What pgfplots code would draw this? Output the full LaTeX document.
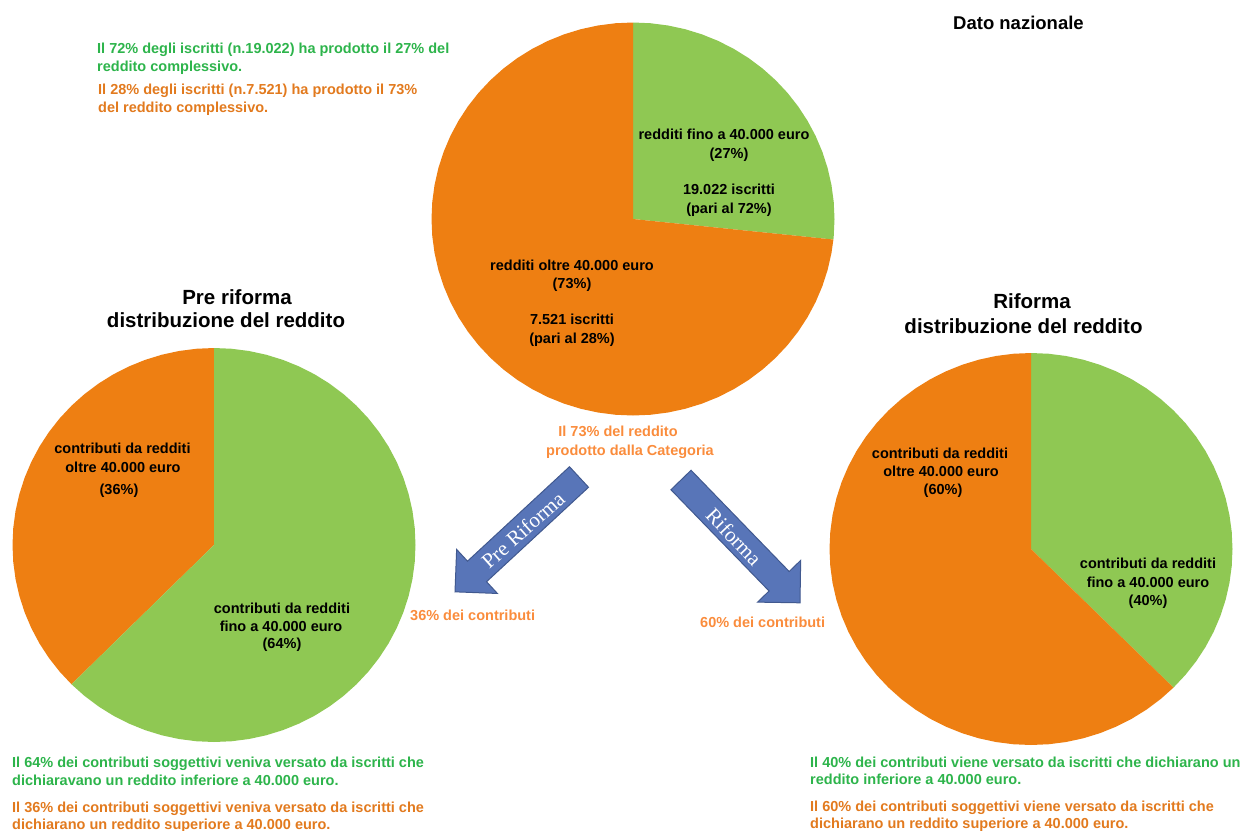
\documentclass[border=0pt]{standalone}
\usepackage{pgfplots}
\pgfplotsset{compat=1.18}
\usepackage{fontspec}
\setmainfont{Liberation Sans}
\newfontfamily\seriffont{Liberation Serif}
\definecolor{pieGreen}{HTML}{8FC853}
\definecolor{pieOrange}{HTML}{EE7F12}
\definecolor{txtGreen}{HTML}{2DB44B}
\definecolor{txtOrange}{HTML}{E27A1E}
\definecolor{lightOrange}{HTML}{FA8C3C}
\definecolor{arrowBlue}{HTML}{5875B8}
\definecolor{arrowEdge}{HTML}{41598F}
\tikzset{
  txt/.style={font=\bfseries\fontsize{14.5}{17}\selectfont, inner sep=0pt, anchor=base west},
  lab/.style={font=\bfseries\fontsize{14.5}{17}\selectfont, inner sep=0pt, anchor=base, text=black},
  ttl/.style={font=\bfseries\fontsize{20.5}{24}\selectfont, inner sep=0pt, anchor=base, text=black},
}
\pgfplotsset{pie/.style={scale only axis, hide axis, xmin=-1, xmax=1, ymin=-1, ymax=1, clip=false, anchor=center}}
\begin{document}
\begin{tikzpicture}
\path[use as bounding box] (0pt,0pt) rectangle (1242pt,-830pt);

% ---- Dato nazionale pie (27% / 73%) ----
\begin{axis}[pie, at={(633pt,-219pt)}, width=403pt, height=393pt]
\addplot[fill=pieGreen, draw=none, data cs=polar] coordinates {
(0,0) (90,1) (85,1) (80,1) (75,1) (70,1) (65,1) (60,1) (55,1) (50,1) (45,1) (40,1)
(35,1) (30,1) (25,1) (20,1) (15,1) (10,1) (5,1) (0,1) (-5,1) (-6,1)};
\addplot[fill=pieOrange, draw=none, data cs=polar] coordinates {
(0,0) (-6,1) (-10,1) (-15,1) (-20,1) (-25,1) (-30,1) (-35,1) (-40,1) (-45,1) (-50,1)
(-55,1) (-60,1) (-65,1) (-70,1) (-75,1) (-80,1) (-85,1) (-90,1) (-95,1) (-100,1)
(-105,1) (-110,1) (-115,1) (-120,1) (-125,1) (-130,1) (-135,1) (-140,1) (-145,1)
(-150,1) (-155,1) (-160,1) (-165,1) (-170,1) (-175,1) (-180,1) (-185,1) (-190,1)
(-195,1) (-200,1) (-205,1) (-210,1) (-215,1) (-220,1) (-225,1) (-230,1) (-235,1)
(-240,1) (-245,1) (-250,1) (-255,1) (-260,1) (-265,1) (-270,1)};
\end{axis}

% ---- Pre riforma pie ----
\begin{axis}[pie, at={(214pt,-545pt)}, width=403pt, height=394pt]
\addplot[fill=pieOrange, draw=none, data cs=polar] coordinates {
(0,0) (90,1) (95,1) (100,1) (105,1) (110,1) (115,1) (120,1) (125,1) (130,1) (135,1)
(140,1) (145,1) (150,1) (155,1) (160,1) (165,1) (170,1) (175,1) (180,1) (185,1)
(190,1) (195,1) (200,1) (205,1) (210,1) (215,1) (220,1) (225,1)};
\addplot[fill=pieGreen, draw=none, data cs=polar] coordinates {
(0,0) (225,1) (230,1) (235,1) (240,1) (245,1) (250,1) (255,1) (260,1) (265,1) (270,1)
(275,1) (280,1) (285,1) (290,1) (295,1) (300,1) (305,1) (310,1) (315,1) (320,1)
(325,1) (330,1) (335,1) (340,1) (345,1) (350,1) (355,1) (360,1) (365,1) (370,1)
(375,1) (380,1) (385,1) (390,1) (395,1) (400,1) (405,1) (410,1) (415,1) (420,1)
(425,1) (430,1) (435,1) (440,1) (445,1) (450,1)};
\end{axis}

% ---- Riforma pie ----
\begin{axis}[pie, at={(1031pt,-549pt)}, width=403pt, height=392pt]
\addplot[fill=pieGreen, draw=none, data cs=polar] coordinates {
(0,0) (90,1) (85,1) (80,1) (75,1) (70,1) (65,1) (60,1) (55,1) (50,1) (45,1) (40,1)
(35,1) (30,1) (25,1) (20,1) (15,1) (10,1) (5,1) (0,1) (-5,1) (-10,1) (-15,1) (-20,1)
(-25,1) (-30,1) (-35,1) (-40,1) (-45,1)};
\addplot[fill=pieOrange, draw=none, data cs=polar] coordinates {
(0,0) (-45,1) (-50,1) (-55,1) (-60,1) (-65,1) (-70,1) (-75,1) (-80,1) (-85,1) (-90,1)
(-95,1) (-100,1) (-105,1) (-110,1) (-115,1) (-120,1) (-125,1) (-130,1) (-135,1)
(-140,1) (-145,1) (-150,1) (-155,1) (-160,1) (-165,1) (-170,1) (-175,1) (-180,1)
(-185,1) (-190,1) (-195,1) (-200,1) (-205,1) (-210,1) (-215,1) (-220,1) (-225,1)
(-230,1) (-235,1) (-240,1) (-245,1) (-250,1) (-255,1) (-260,1) (-265,1) (-270,1)};
\end{axis}

\begin{scope}[x=1pt, y=-1pt]
% arrows
\begin{scope}[shift={(579,477)}, rotate=222.8]
\filldraw[fill=arrowBlue, draw=arrowEdge, line width=1pt]
 (0,-14) -- (139,-14) -- (139,-30) -- (169,0) -- (139,30) -- (139,14) -- (0,14) -- cycle;
\end{scope}
\begin{scope}[shift={(681,480)}, rotate=-45.9]
\filldraw[fill=arrowBlue, draw=arrowEdge, line width=1pt]
 (0,-14) -- (141,-14) -- (141,-30) -- (171,0) -- (141,30) -- (141,14) -- (0,14) -- cycle;
\end{scope}
\node[rotate=41.7, text=white, inner sep=0pt, font=\seriffont\fontsize{21}{21}\selectfont] at (523,530) {Pre Riforma};
\node[rotate=-46.5, text=white, inner sep=0pt, font=\seriffont\fontsize{21}{21}\selectfont] at (734,537) {Riforma};

% top-left notes
\node[txt, text=txtGreen] at (97,53) {Il 72\% degli iscritti (n.19.022) ha prodotto il 27\% del};
\node[txt, text=txtGreen] at (97,71) {reddito complessivo.};
\node[txt, text=txtOrange] at (98,94) {Il 28\% degli iscritti (n.7.521) ha prodotto il 73\%};
\node[txt, text=txtOrange] at (98,112) {del reddito complessivo.};

\node[font=\bfseries\fontsize{18.5}{22}\selectfont, inner sep=0pt, anchor=base west] at (953,29) {Dato nazionale};

% top pie labels
\node[lab] at (724,139) {redditi fino a 40.000 euro};
\node[lab] at (729,158) {(27\%)};
\node[lab] at (729,194) {19.022 iscritti};
\node[lab] at (729,213) {(pari al 72\%)};
\node[lab] at (572,270) {redditi oltre 40.000 euro};
\node[lab] at (572,288) {(73\%)};
\node[lab] at (572,324) {7.521 iscritti};
\node[lab] at (572,343) {(pari al 28\%)};

\node[txt, anchor=base, text=lightOrange] at (618,436) {Il 73\% del reddito};
\node[txt, anchor=base, text=lightOrange] at (630,455) {prodotto dalla Categoria};

% titles
\node[ttl] at (237,304) {Pre riforma};
\node[ttl] at (226,327) {distribuzione del reddito};
\node[ttl] at (1032,308) {Riforma};
\node[ttl] at (1023.5,333) {distribuzione del reddito};

% left pie labels
\node[lab] at (122.5,453) {contributi da redditi};
\node[lab] at (123,472) {oltre 40.000 euro};
\node[lab] at (119,494) {(36\%)};
\node[lab] at (282,613) {contributi da redditi};
\node[lab] at (281,631) {fino a 40.000 euro};
\node[lab] at (282,648) {(64\%)};

% right pie labels
\node[lab] at (940,458) {contributi da redditi};
\node[lab] at (941,476) {oltre 40.000 euro};
\node[lab] at (943,494) {(60\%)};
\node[lab] at (1148,568) {contributi da redditi};
\node[lab] at (1148,587) {fino a 40.000 euro};
\node[lab] at (1148,605) {(40\%)};

\node[txt, text=lightOrange] at (410,620) {36\% dei contributi};
\node[txt, text=lightOrange] at (700,627) {60\% dei contributi};

% bottom notes
\node[txt, text=txtGreen] at (12,767) {Il 64\% dei contributi soggettivi veniva versato da iscritti che};
\node[txt, text=txtGreen] at (12,785) {dichiaravano un reddito inferiore a 40.000 euro.};
\node[txt, text=txtOrange] at (12,812) {Il 36\% dei contributi soggettivi veniva versato da iscritti che};
\node[txt, text=txtOrange] at (12,829) {dichiarano un reddito superiore a 40.000 euro.};

\node[txt, text=txtGreen] at (810,767) {Il 40\% dei contributi viene versato da iscritti che dichiarano un};
\node[txt, text=txtGreen] at (810,784) {reddito inferiore a 40.000 euro.};
\node[txt, text=txtOrange] at (810,811) {Il 60\% dei contributi soggettivi viene versato da iscritti che};
\node[txt, text=txtOrange] at (810,828) {dichiarano un reddito superiore a 40.000 euro.};
\end{scope}
\end{tikzpicture}
\end{document}
